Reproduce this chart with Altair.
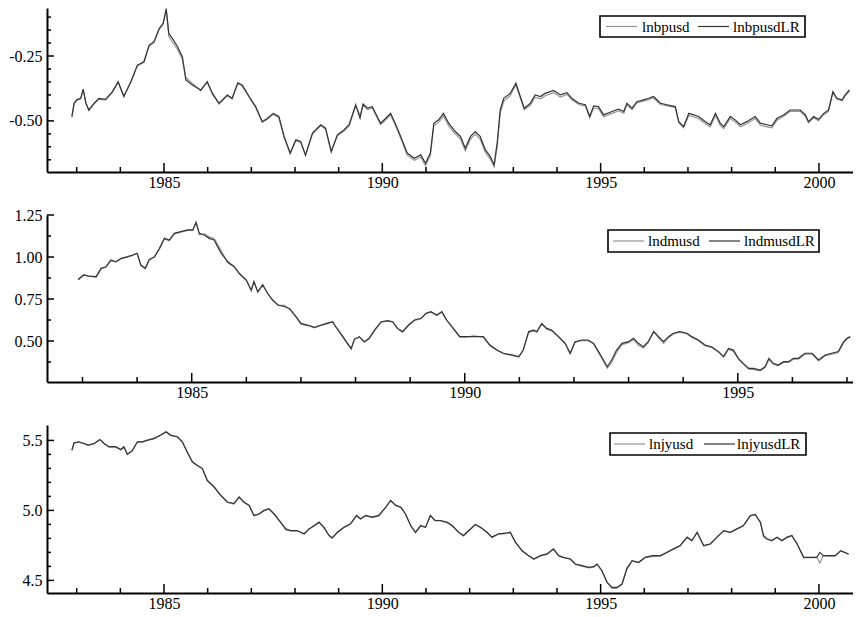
import altair as alt
import pandas as pd

FONT = "Liberation Serif"
LIGHT = "#959595"
DARK = "#353535"

# ---------------- data: (year, actual, long-run fit) ----------------
gbp_names = ["lnbpusd", "lnbpusdLR"]
gbp_rows = [
    (1982.89, -0.487, -0.483), (1982.94, -0.436, -0.432), (1983.00, -0.421, -0.419),
    (1983.09, -0.415, -0.413), (1983.15, -0.380, -0.378), (1983.21, -0.430, -0.432),
    (1983.28, -0.460, -0.458), (1983.40, -0.434, -0.432), (1983.51, -0.416, -0.413),
    (1983.66, -0.420, -0.417), (1983.82, -0.389, -0.387), (1983.95, -0.352, -0.349),
    (1984.08, -0.404, -0.406), (1984.24, -0.352, -0.349), (1984.39, -0.288, -0.285),
    (1984.54, -0.274, -0.272), (1984.66, -0.211, -0.208), (1984.77, -0.198, -0.195),
    (1984.89, -0.147, -0.144), (1984.98, -0.128, -0.124), (1985.05, -0.072, -0.067),
    (1985.11, -0.175, -0.163), (1985.19, -0.196, -0.182), (1985.31, -0.225, -0.214),
    (1985.42, -0.262, -0.253), (1985.50, -0.333, -0.342), (1985.65, -0.356, -0.362),
    (1985.84, -0.384, -0.381), (1985.99, -0.352, -0.349), (1986.11, -0.397, -0.394),
    (1986.26, -0.435, -0.432), (1986.45, -0.403, -0.400), (1986.56, -0.416, -0.413),
    (1986.69, -0.356, -0.353), (1986.79, -0.366, -0.362), (1986.95, -0.410, -0.406),
    (1987.10, -0.449, -0.445), (1987.25, -0.506, -0.503), (1987.37, -0.494, -0.490),
    (1987.50, -0.475, -0.471), (1987.63, -0.487, -0.483), (1987.75, -0.563, -0.560),
    (1987.89, -0.627, -0.624), (1988.02, -0.576, -0.573), (1988.13, -0.583, -0.579),
    (1988.24, -0.634, -0.631), (1988.40, -0.551, -0.547), (1988.59, -0.518, -0.515),
    (1988.70, -0.532, -0.528), (1988.83, -0.621, -0.618), (1988.97, -0.558, -0.554),
    (1989.12, -0.539, -0.535), (1989.24, -0.519, -0.515), (1989.39, -0.442, -0.438),
    (1989.49, -0.478, -0.490), (1989.56, -0.440, -0.435), (1989.66, -0.456, -0.451),
    (1989.77, -0.450, -0.445), (1989.96, -0.514, -0.509), (1990.08, -0.496, -0.490),
    (1990.19, -0.477, -0.471), (1990.31, -0.521, -0.515), (1990.42, -0.566, -0.560),
    (1990.57, -0.632, -0.624), (1990.73, -0.652, -0.644), (1990.88, -0.640, -0.631),
    (1990.99, -0.673, -0.663), (1991.10, -0.634, -0.624), (1991.18, -0.519, -0.509),
    (1991.29, -0.506, -0.496), (1991.40, -0.481, -0.471), (1991.52, -0.519, -0.509),
    (1991.67, -0.551, -0.541), (1991.79, -0.570, -0.560), (1991.90, -0.615, -0.605),
    (1992.02, -0.570, -0.560), (1992.13, -0.551, -0.541), (1992.24, -0.570, -0.560),
    (1992.36, -0.622, -0.612), (1992.47, -0.647, -0.637), (1992.56, -0.677, -0.669),
    (1992.63, -0.600, -0.586), (1992.70, -0.470, -0.458), (1992.78, -0.425, -0.413),
    (1992.93, -0.402, -0.394), (1993.06, -0.362, -0.355), (1993.16, -0.412, -0.406),
    (1993.25, -0.457, -0.451), (1993.39, -0.440, -0.432), (1993.50, -0.409, -0.400),
    (1993.62, -0.415, -0.406), (1993.73, -0.403, -0.394), (1993.92, -0.391, -0.383),
    (1994.08, -0.408, -0.400), (1994.23, -0.398, -0.391), (1994.34, -0.419, -0.413),
    (1994.50, -0.437, -0.432), (1994.65, -0.443, -0.438), (1994.75, -0.487, -0.483),
    (1994.84, -0.450, -0.442), (1994.95, -0.453, -0.445), (1995.07, -0.484, -0.477),
    (1995.26, -0.471, -0.464), (1995.41, -0.462, -0.455), (1995.53, -0.470, -0.464),
    (1995.60, -0.438, -0.432), (1995.72, -0.457, -0.451), (1995.83, -0.431, -0.426),
    (1995.98, -0.424, -0.419), (1996.10, -0.418, -0.413), (1996.21, -0.411, -0.406),
    (1996.37, -0.437, -0.432), (1996.52, -0.442, -0.438), (1996.71, -0.449, -0.445),
    (1996.79, -0.507, -0.503), (1996.90, -0.526, -0.522), (1997.02, -0.479, -0.471),
    (1997.13, -0.485, -0.477), (1997.24, -0.491, -0.483), (1997.40, -0.511, -0.503),
    (1997.51, -0.523, -0.515), (1997.63, -0.479, -0.471), (1997.74, -0.517, -0.509),
    (1997.82, -0.530, -0.522), (1997.97, -0.491, -0.483), (1998.08, -0.504, -0.496),
    (1998.20, -0.523, -0.515), (1998.35, -0.511, -0.503), (1998.54, -0.491, -0.483),
    (1998.66, -0.517, -0.509), (1998.81, -0.523, -0.515), (1998.92, -0.527, -0.519),
    (1999.04, -0.497, -0.490), (1999.19, -0.483, -0.477), (1999.34, -0.463, -0.458),
    (1999.57, -0.463, -0.458), (1999.69, -0.482, -0.477), (1999.76, -0.507, -0.503),
    (1999.88, -0.488, -0.483), (1999.99, -0.499, -0.494), (2000.11, -0.476, -0.471),
    (2000.22, -0.463, -0.458), (2000.32, -0.391, -0.387), (2000.41, -0.417, -0.413),
    (2000.53, -0.423, -0.419), (2000.60, -0.404, -0.400), (2000.70, -0.385, -0.381),
]

dm_names = ["lndmusd", "lndmusdLR"]
dm_rows = [
    (1982.92, 0.863, 0.866), (1983.02, 0.893, 0.893), (1983.11, 0.887, 0.886),
    (1983.25, 0.879, 0.883), (1983.34, 0.928, 0.933), (1983.43, 0.940, 0.942),
    (1983.52, 0.978, 0.982), (1983.61, 0.970, 0.972), (1983.71, 0.990, 0.992),
    (1983.83, 1.000, 1.002), (1983.92, 1.010, 1.012), (1984.00, 1.022, 1.022),
    (1984.07, 0.948, 0.952), (1984.15, 0.930, 0.933), (1984.22, 0.985, 0.982),
    (1984.32, 1.000, 1.002), (1984.41, 1.048, 1.052), (1984.50, 1.108, 1.111),
    (1984.59, 1.097, 1.101), (1984.68, 1.138, 1.141), (1984.80, 1.148, 1.151),
    (1984.93, 1.158, 1.161), (1985.02, 1.158, 1.161), (1985.08, 1.206, 1.206),
    (1985.14, 1.132, 1.141), (1985.23, 1.138, 1.131), (1985.32, 1.120, 1.111),
    (1985.41, 1.110, 1.101), (1985.54, 1.038, 1.022), (1985.66, 0.965, 0.972),
    (1985.78, 0.940, 0.942), (1985.87, 0.900, 0.903), (1986.00, 0.860, 0.863),
    (1986.09, 0.798, 0.804), (1986.14, 0.856, 0.853), (1986.21, 0.788, 0.794),
    (1986.30, 0.838, 0.833), (1986.39, 0.780, 0.784), (1986.48, 0.746, 0.744),
    (1986.58, 0.712, 0.714), (1986.70, 0.712, 0.704), (1986.79, 0.690, 0.694),
    (1986.91, 0.642, 0.645), (1987.00, 0.600, 0.605), (1987.12, 0.592, 0.595),
    (1987.25, 0.578, 0.581), (1987.37, 0.593, 0.595), (1987.49, 0.610, 0.605),
    (1987.58, 0.612, 0.615), (1987.64, 0.582, 0.585), (1987.77, 0.522, 0.526),
    (1987.83, 0.493, 0.496), (1987.92, 0.452, 0.456), (1987.98, 0.512, 0.510),
    (1988.07, 0.523, 0.526), (1988.16, 0.493, 0.496), (1988.25, 0.513, 0.516),
    (1988.35, 0.562, 0.566), (1988.47, 0.612, 0.615), (1988.59, 0.618, 0.621),
    (1988.68, 0.612, 0.615), (1988.77, 0.572, 0.575), (1988.86, 0.552, 0.556),
    (1988.97, 0.592, 0.595), (1989.08, 0.622, 0.625), (1989.20, 0.632, 0.635),
    (1989.29, 0.662, 0.665), (1989.38, 0.672, 0.675), (1989.49, 0.652, 0.655),
    (1989.58, 0.672, 0.675), (1989.67, 0.622, 0.625), (1989.79, 0.572, 0.575),
    (1989.91, 0.523, 0.526), (1990.04, 0.523, 0.526), (1990.16, 0.530, 0.526),
    (1990.34, 0.523, 0.526), (1990.46, 0.472, 0.476), (1990.59, 0.443, 0.446),
    (1990.71, 0.424, 0.427), (1990.86, 0.414, 0.417), (1990.99, 0.404, 0.407),
    (1991.07, 0.443, 0.446), (1991.17, 0.550, 0.556), (1991.26, 0.560, 0.565),
    (1991.32, 0.552, 0.556), (1991.41, 0.600, 0.605), (1991.50, 0.572, 0.575),
    (1991.59, 0.560, 0.565), (1991.72, 0.522, 0.526), (1991.84, 0.482, 0.486),
    (1991.93, 0.424, 0.427), (1992.02, 0.492, 0.496), (1992.14, 0.502, 0.506),
    (1992.26, 0.502, 0.506), (1992.36, 0.482, 0.486), (1992.45, 0.432, 0.437),
    (1992.54, 0.380, 0.387), (1992.61, 0.338, 0.347), (1992.69, 0.372, 0.387),
    (1992.78, 0.432, 0.446), (1992.88, 0.478, 0.486), (1993.00, 0.490, 0.496),
    (1993.09, 0.508, 0.516), (1993.18, 0.474, 0.486), (1993.27, 0.458, 0.466),
    (1993.36, 0.490, 0.496), (1993.46, 0.556, 0.556), (1993.55, 0.518, 0.526),
    (1993.64, 0.486, 0.496), (1993.73, 0.520, 0.526), (1993.82, 0.542, 0.546),
    (1993.94, 0.552, 0.556), (1994.07, 0.542, 0.546), (1994.16, 0.521, 0.526),
    (1994.28, 0.501, 0.506), (1994.40, 0.471, 0.476), (1994.52, 0.461, 0.466),
    (1994.65, 0.432, 0.437), (1994.74, 0.405, 0.407), (1994.83, 0.450, 0.456),
    (1994.92, 0.440, 0.446), (1995.01, 0.392, 0.397), (1995.10, 0.362, 0.367),
    (1995.20, 0.332, 0.337), (1995.29, 0.330, 0.337), (1995.41, 0.322, 0.327),
    (1995.50, 0.342, 0.347), (1995.57, 0.390, 0.397), (1995.65, 0.362, 0.367),
    (1995.74, 0.352, 0.357), (1995.84, 0.372, 0.377), (1995.93, 0.372, 0.377),
    (1996.02, 0.392, 0.397), (1996.11, 0.392, 0.397), (1996.23, 0.422, 0.427),
    (1996.36, 0.422, 0.427), (1996.48, 0.382, 0.387), (1996.60, 0.412, 0.417),
    (1996.72, 0.422, 0.427), (1996.84, 0.432, 0.437), (1996.94, 0.490, 0.496),
    (1997.00, 0.512, 0.516), (1997.06, 0.522, 0.526),
]

jy_names = ["lnjyusd", "lnjyusdLR"]
jy_rows = [
    (1982.89, 5.428, 5.431), (1982.94, 5.480, 5.483), (1983.05, 5.487, 5.490),
    (1983.17, 5.475, 5.478), (1983.26, 5.464, 5.467), (1983.40, 5.475, 5.478),
    (1983.53, 5.504, 5.507), (1983.63, 5.475, 5.478), (1983.74, 5.452, 5.455),
    (1983.89, 5.452, 5.455), (1984.01, 5.432, 5.435), (1984.08, 5.452, 5.455),
    (1984.16, 5.399, 5.402), (1984.27, 5.423, 5.426), (1984.39, 5.487, 5.490),
    (1984.50, 5.487, 5.490), (1984.62, 5.499, 5.502), (1984.77, 5.511, 5.514),
    (1984.92, 5.535, 5.538), (1985.05, 5.559, 5.562), (1985.15, 5.535, 5.538),
    (1985.31, 5.523, 5.526), (1985.42, 5.487, 5.490), (1985.53, 5.416, 5.419),
    (1985.65, 5.344, 5.347), (1985.76, 5.320, 5.323), (1985.88, 5.296, 5.299),
    (1985.99, 5.212, 5.215), (1986.15, 5.164, 5.167), (1986.30, 5.105, 5.108),
    (1986.45, 5.057, 5.060), (1986.60, 5.045, 5.048), (1986.72, 5.093, 5.096),
    (1986.83, 5.057, 5.060), (1986.95, 5.033, 5.036), (1987.06, 4.961, 4.964),
    (1987.18, 4.973, 4.976), (1987.29, 4.997, 5.000), (1987.40, 5.009, 5.012),
    (1987.52, 4.973, 4.976), (1987.67, 4.913, 4.916), (1987.79, 4.860, 4.868),
    (1987.90, 4.853, 4.856), (1988.05, 4.853, 4.856), (1988.21, 4.830, 4.833),
    (1988.32, 4.865, 4.868), (1988.44, 4.889, 4.892), (1988.55, 4.913, 4.916),
    (1988.66, 4.877, 4.880), (1988.78, 4.818, 4.821), (1988.85, 4.801, 4.804),
    (1988.97, 4.841, 4.844), (1989.12, 4.877, 4.880), (1989.27, 4.901, 4.904),
    (1989.41, 4.961, 4.964), (1989.50, 4.937, 4.940), (1989.62, 4.961, 4.964),
    (1989.77, 4.949, 4.952), (1989.92, 4.961, 4.964), (1990.08, 5.021, 5.024),
    (1990.19, 5.069, 5.072), (1990.31, 5.033, 5.036), (1990.42, 5.021, 5.024),
    (1990.53, 4.973, 4.976), (1990.65, 4.889, 4.892), (1990.76, 4.841, 4.844),
    (1990.88, 4.889, 4.892), (1990.99, 4.877, 4.880), (1991.10, 4.961, 4.964),
    (1991.21, 4.925, 4.928), (1991.33, 4.925, 4.928), (1991.48, 4.913, 4.916),
    (1991.60, 4.889, 4.892), (1991.75, 4.841, 4.844), (1991.86, 4.818, 4.821),
    (1991.98, 4.853, 4.856), (1992.13, 4.897, 4.900), (1992.25, 4.877, 4.880),
    (1992.40, 4.841, 4.844), (1992.51, 4.806, 4.809), (1992.66, 4.830, 4.833),
    (1992.82, 4.834, 4.837), (1992.93, 4.841, 4.844), (1993.05, 4.770, 4.773),
    (1993.20, 4.710, 4.713), (1993.35, 4.674, 4.677), (1993.47, 4.650, 4.653),
    (1993.62, 4.674, 4.677), (1993.77, 4.686, 4.689), (1993.92, 4.722, 4.725),
    (1994.04, 4.674, 4.677), (1994.15, 4.662, 4.665), (1994.31, 4.650, 4.653),
    (1994.42, 4.614, 4.617), (1994.57, 4.602, 4.605), (1994.73, 4.590, 4.593),
    (1994.84, 4.595, 4.598), (1994.92, 4.614, 4.617), (1995.03, 4.566, 4.569),
    (1995.15, 4.483, 4.486), (1995.26, 4.443, 4.450), (1995.37, 4.443, 4.450),
    (1995.49, 4.471, 4.474), (1995.60, 4.590, 4.581), (1995.72, 4.638, 4.641),
    (1995.87, 4.626, 4.629), (1996.02, 4.662, 4.665), (1996.18, 4.670, 4.677),
    (1996.37, 4.674, 4.677), (1996.52, 4.698, 4.701), (1996.67, 4.722, 4.725),
    (1996.82, 4.746, 4.749), (1996.98, 4.806, 4.809), (1997.09, 4.782, 4.785),
    (1997.21, 4.841, 4.844), (1997.36, 4.746, 4.749), (1997.51, 4.758, 4.761),
    (1997.66, 4.806, 4.809), (1997.82, 4.853, 4.856), (1997.97, 4.841, 4.844),
    (1998.12, 4.865, 4.868), (1998.27, 4.889, 4.892), (1998.43, 4.961, 4.964),
    (1998.54, 4.968, 4.971), (1998.66, 4.913, 4.916), (1998.73, 4.810, 4.821),
    (1998.81, 4.794, 4.797), (1998.92, 4.782, 4.785), (1999.04, 4.806, 4.809),
    (1999.15, 4.782, 4.785), (1999.27, 4.806, 4.809), (1999.38, 4.818, 4.821),
    (1999.50, 4.758, 4.761), (1999.65, 4.662, 4.665), (1999.80, 4.662, 4.665),
    (1999.95, 4.665, 4.665), (2000.02, 4.625, 4.700), (2000.10, 4.677, 4.677),
    (2000.22, 4.674, 4.677), (2000.37, 4.674, 4.677), (2000.50, 4.710, 4.713),
    (2000.68, 4.686, 4.689),
]

# axis tick values
x_major_long = [1985, 1990, 1995, 2000]
x_minor_long = [1983, 1984, 1986, 1987, 1988, 1989, 1991, 1992, 1993, 1994,
                1996, 1997, 1998, 1999]
x_major_short = [1985, 1990, 1995]
x_minor_short = [1983, 1984, 1986, 1987, 1988, 1989, 1991, 1992, 1993, 1994,
                 1996, 1997]
gbp_y_major = [-0.25, -0.50]
gbp_y_minor = [-0.10, -0.15, -0.20, -0.30, -0.35, -0.40, -0.45, -0.55, -0.60, -0.65]
dm_y_major = [0.50, 0.75, 1.00, 1.25]
dm_y_minor = [0.375, 0.625, 0.875, 1.125]
jy_y_major = [4.5, 5.0, 5.5]
jy_y_minor = [4.6, 4.7, 4.8, 4.9, 5.1, 5.2, 5.3, 5.4]

W = 806


def one_row():
    return alt.Data(values=[{"k": 0}])


def panel(rows, names, xdom, ydom, xmaj, xmin, ymaj, ymin, yfmt, H, leg):
    df = pd.DataFrame(rows, columns=["year", names[0], names[1]])
    long = df.melt("year", var_name="series", value_name="value")
    xs = alt.Scale(domain=xdom, nice=False, zero=False)
    ys = alt.Scale(domain=ydom, nice=False, zero=False)

    xaxis = alt.Axis(values=xmaj, format="d", tickSize=0, labelPadding=2,
                     domainWidth=2, domainColor="black", grid=False, title=None,
                     labelFont=FONT, labelFontSize=16, labelColor="black",
                     labelFlush=False)
    yaxis = alt.Axis(values=ymaj, format=yfmt, tickSize=0, labelPadding=5,
                     domainWidth=2, domainColor="black", grid=False, title=None,
                     labelFont=FONT, labelFontSize=16, labelColor="black",
                     labelFlush=False,
                     labelExpr="replace(datum.label, '\u2212', '-')")

    lines = alt.Chart(long).mark_line(strokeWidth=1.2, clip=True).encode(
        x=alt.X("year:Q", scale=xs, axis=xaxis),
        y=alt.Y("value:Q", scale=ys, axis=yaxis),
        color=alt.Color("series:N", scale=alt.Scale(domain=names, range=[LIGHT, DARK]),
                        legend=None),
        detail="series:N",
    )

    def xticks(vals, ln):
        return alt.Chart(pd.DataFrame({"year": vals})).mark_rule(
            color="black", strokeWidth=1.5).encode(
            x=alt.X("year:Q", scale=xs, axis=xaxis),
            y=alt.value(H), y2=alt.value(H - ln))

    def yticks(vals, ln):
        return alt.Chart(pd.DataFrame({"value": vals})).mark_rule(
            color="black", strokeWidth=1.5).encode(
            y=alt.Y("value:Q", scale=ys, axis=yaxis),
            x=alt.value(0), x2=alt.value(ln))

    bx0, bx1, by0, by1, s1, l1, s2, l2, cy = leg
    box = alt.Chart(one_row()).mark_rect(fill="white", stroke="black", strokeWidth=1.6).encode(
        x=alt.value(bx0), x2=alt.value(bx1), y=alt.value(by0), y2=alt.value(by1))
    sym1 = alt.Chart(one_row()).mark_rule(color=LIGHT, strokeWidth=1.2).encode(
        x=alt.value(s1), x2=alt.value(s1 + 31), y=alt.value(cy))
    sym2 = alt.Chart(one_row()).mark_rule(color=DARK, strokeWidth=1.2).encode(
        x=alt.value(s2), x2=alt.value(s2 + 31), y=alt.value(cy))
    txt1 = alt.Chart(one_row()).mark_text(align="left", baseline="middle", font=FONT,
                                         fontSize=15, color="black").encode(
        x=alt.value(l1), y=alt.value(cy), text=alt.value(names[0]))
    txt2 = alt.Chart(one_row()).mark_text(align="left", baseline="middle", font=FONT,
                                         fontSize=15, color="black").encode(
        x=alt.value(l2), y=alt.value(cy), text=alt.value(names[1]))

    return alt.layer(
        lines,
        xticks(xmaj, 9), xticks(xmin, 5),
        yticks(ymaj, 7), yticks(ymin, 4),
        box, sym1, sym2, txt1, txt2,
    ).properties(width=W, height=H)


p1 = panel(gbp_rows, gbp_names, [1982.32, 2000.78], [-0.697, -0.065],
           x_major_long, x_minor_long, gbp_y_major, gbp_y_minor, ".2f", 164,
           (553, 758, 8, 29, 559, 595, 651, 686, 18.5))
p2 = panel(dm_rows, dm_names, [1982.35, 1997.11], [0.256, 1.25],
           x_major_short, x_minor_short, dm_y_major, dm_y_minor, ".2f", 167,
           (561, 772, 15, 37, 566, 601, 662, 697, 26))
p3 = panel(jy_rows, jy_names, [1982.32, 2000.78], [4.41, 5.61],
           x_major_long, x_minor_long, jy_y_major, jy_y_minor, ".1f", 168,
           (563, 759, 8, 30, 567, 602, 657, 690, 19))

chart = alt.vconcat(p1, p2, p3, spacing=43, bounds="flush").resolve_scale(
    x="independent", y="independent", color="independent"
).properties(
    padding={"left": 0, "top": 0, "right": 0, "bottom": 0}
).configure_view(stroke=None)

chart.save("out.html", embed_options={"renderer": "svg", "actions": False})
